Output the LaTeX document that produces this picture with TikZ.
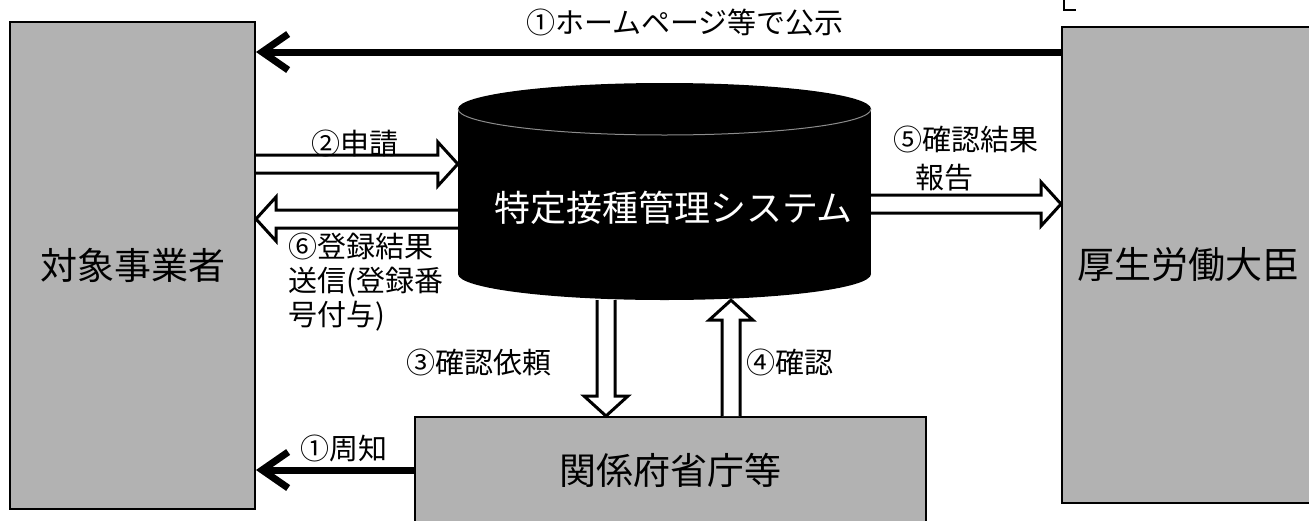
\documentclass[tikz,border=0pt]{standalone}
\usepackage{fontspec}
\setmainfont{Noto Sans CJK JP}
\usetikzlibrary{calc,arrows.meta}

\newcommand{\flowarrow}[2]{%
  \coordinate (fs) at (#1);
  \coordinate (ft) at (#2);
  \coordinate (fn) at ($(ft)!20pt!(fs)$);
  \draw[hollow] ($(fs)!9pt!90:(ft)$) -- ($(fn)!9pt!90:(ft)$) -- ($(fn)!22pt!90:(ft)$) -- (ft)
    -- ($(fn)!22pt!-90:(ft)$) -- ($(fn)!9pt!-90:(ft)$) -- ($(fs)!9pt!-90:(ft)$);}

\begin{document}
\begin{tikzpicture}[x=1pt,y=-1pt,
  box/.style={draw, line width=2pt, fill=black!30, inner sep=0pt, font=\fontsize{37}{40}\selectfont},
  lbl/.style={inner sep=0pt, font=\fontsize{29}{34}\selectfont},
  hollow/.style={draw, line width=3pt, fill=white, line join=miter},
  notice/.style={line width=7pt, -{Straight Barb[length=26pt,width=36pt]}}]
\useasboundingbox (0,0) rectangle (1309,520);
\clip (0,0) rectangle (1309,520);
\node[box, minimum width=245pt, minimum height=487pt] (biz) at (132.5,265.5) {対象事業者};
\node[box, minimum width=252pt, minimum height=476pt] (mhlw) at (1188,265) {厚生労働大臣};
\node[box, minimum width=511pt, minimum height=106pt] (agency) at (670.5,470) {関係府省庁等};
\draw[line width=1.5pt] (1064,0) -- (1064,10) -- (1076,10);
\fill (458,109) rectangle (871,274);
\fill (664.5,274) ellipse [x radius=206.5, y radius=26];
\fill (664.5,109) ellipse [x radius=206.5, y radius=26];
\draw[black!45, line width=1pt] (458,109) arc [start angle=180, end angle=0, x radius=206.5, y radius=26];
\node[minimum width=413pt, minimum height=184pt, inner sep=0pt, text=white, font=\fontsize{36}{40}\selectfont] (sys) at (664.5,208) {\hspace*{18pt}特定接種管理システム};
\coordinate (r1) at (0,52);
\coordinate (r2) at (0,164);
\coordinate (r5) at (0,204);
\coordinate (r6) at (0,219);
\coordinate (rk) at (0,470);
\coordinate (c3) at (606,0);
\coordinate (c4) at (731,0);
\draw[notice] (mhlw.west |- r1) -- (biz.east |- r1);
\draw[notice] (agency.west |- rk) -- (biz.east |- rk);
\flowarrow{biz.east |- r2}{sys.west |- r2}
\flowarrow{sys.west |- r6}{biz.east |- r6}
\flowarrow{sys.east |- r5}{mhlw.west |- r5}
\flowarrow{c3 |- sys.south}{c3 |- agency.north}
\flowarrow{c4 |- agency.north}{c4 |- sys.south}
\node[lbl] (l1) at (685,22) {①ホームページ等で公示};
\node[lbl] (l2) at (355,143) {②申請};
\node[lbl] (l3) at (479,362) {③確認依頼};
\node[lbl] (l4) at (790,362) {④確認};
\node[lbl, anchor=west, align=left] (l5) at (893,159) {⑤確認結果\\[4pt]\hspace*{22pt}報告};
\node[lbl, anchor=west, align=left] (l6) at (288,282) {⑥登録結果\\送信(登録番\\号付与)};
\node[lbl] (lk) at (344,448) {①周知};
\end{tikzpicture}
\end{document}
